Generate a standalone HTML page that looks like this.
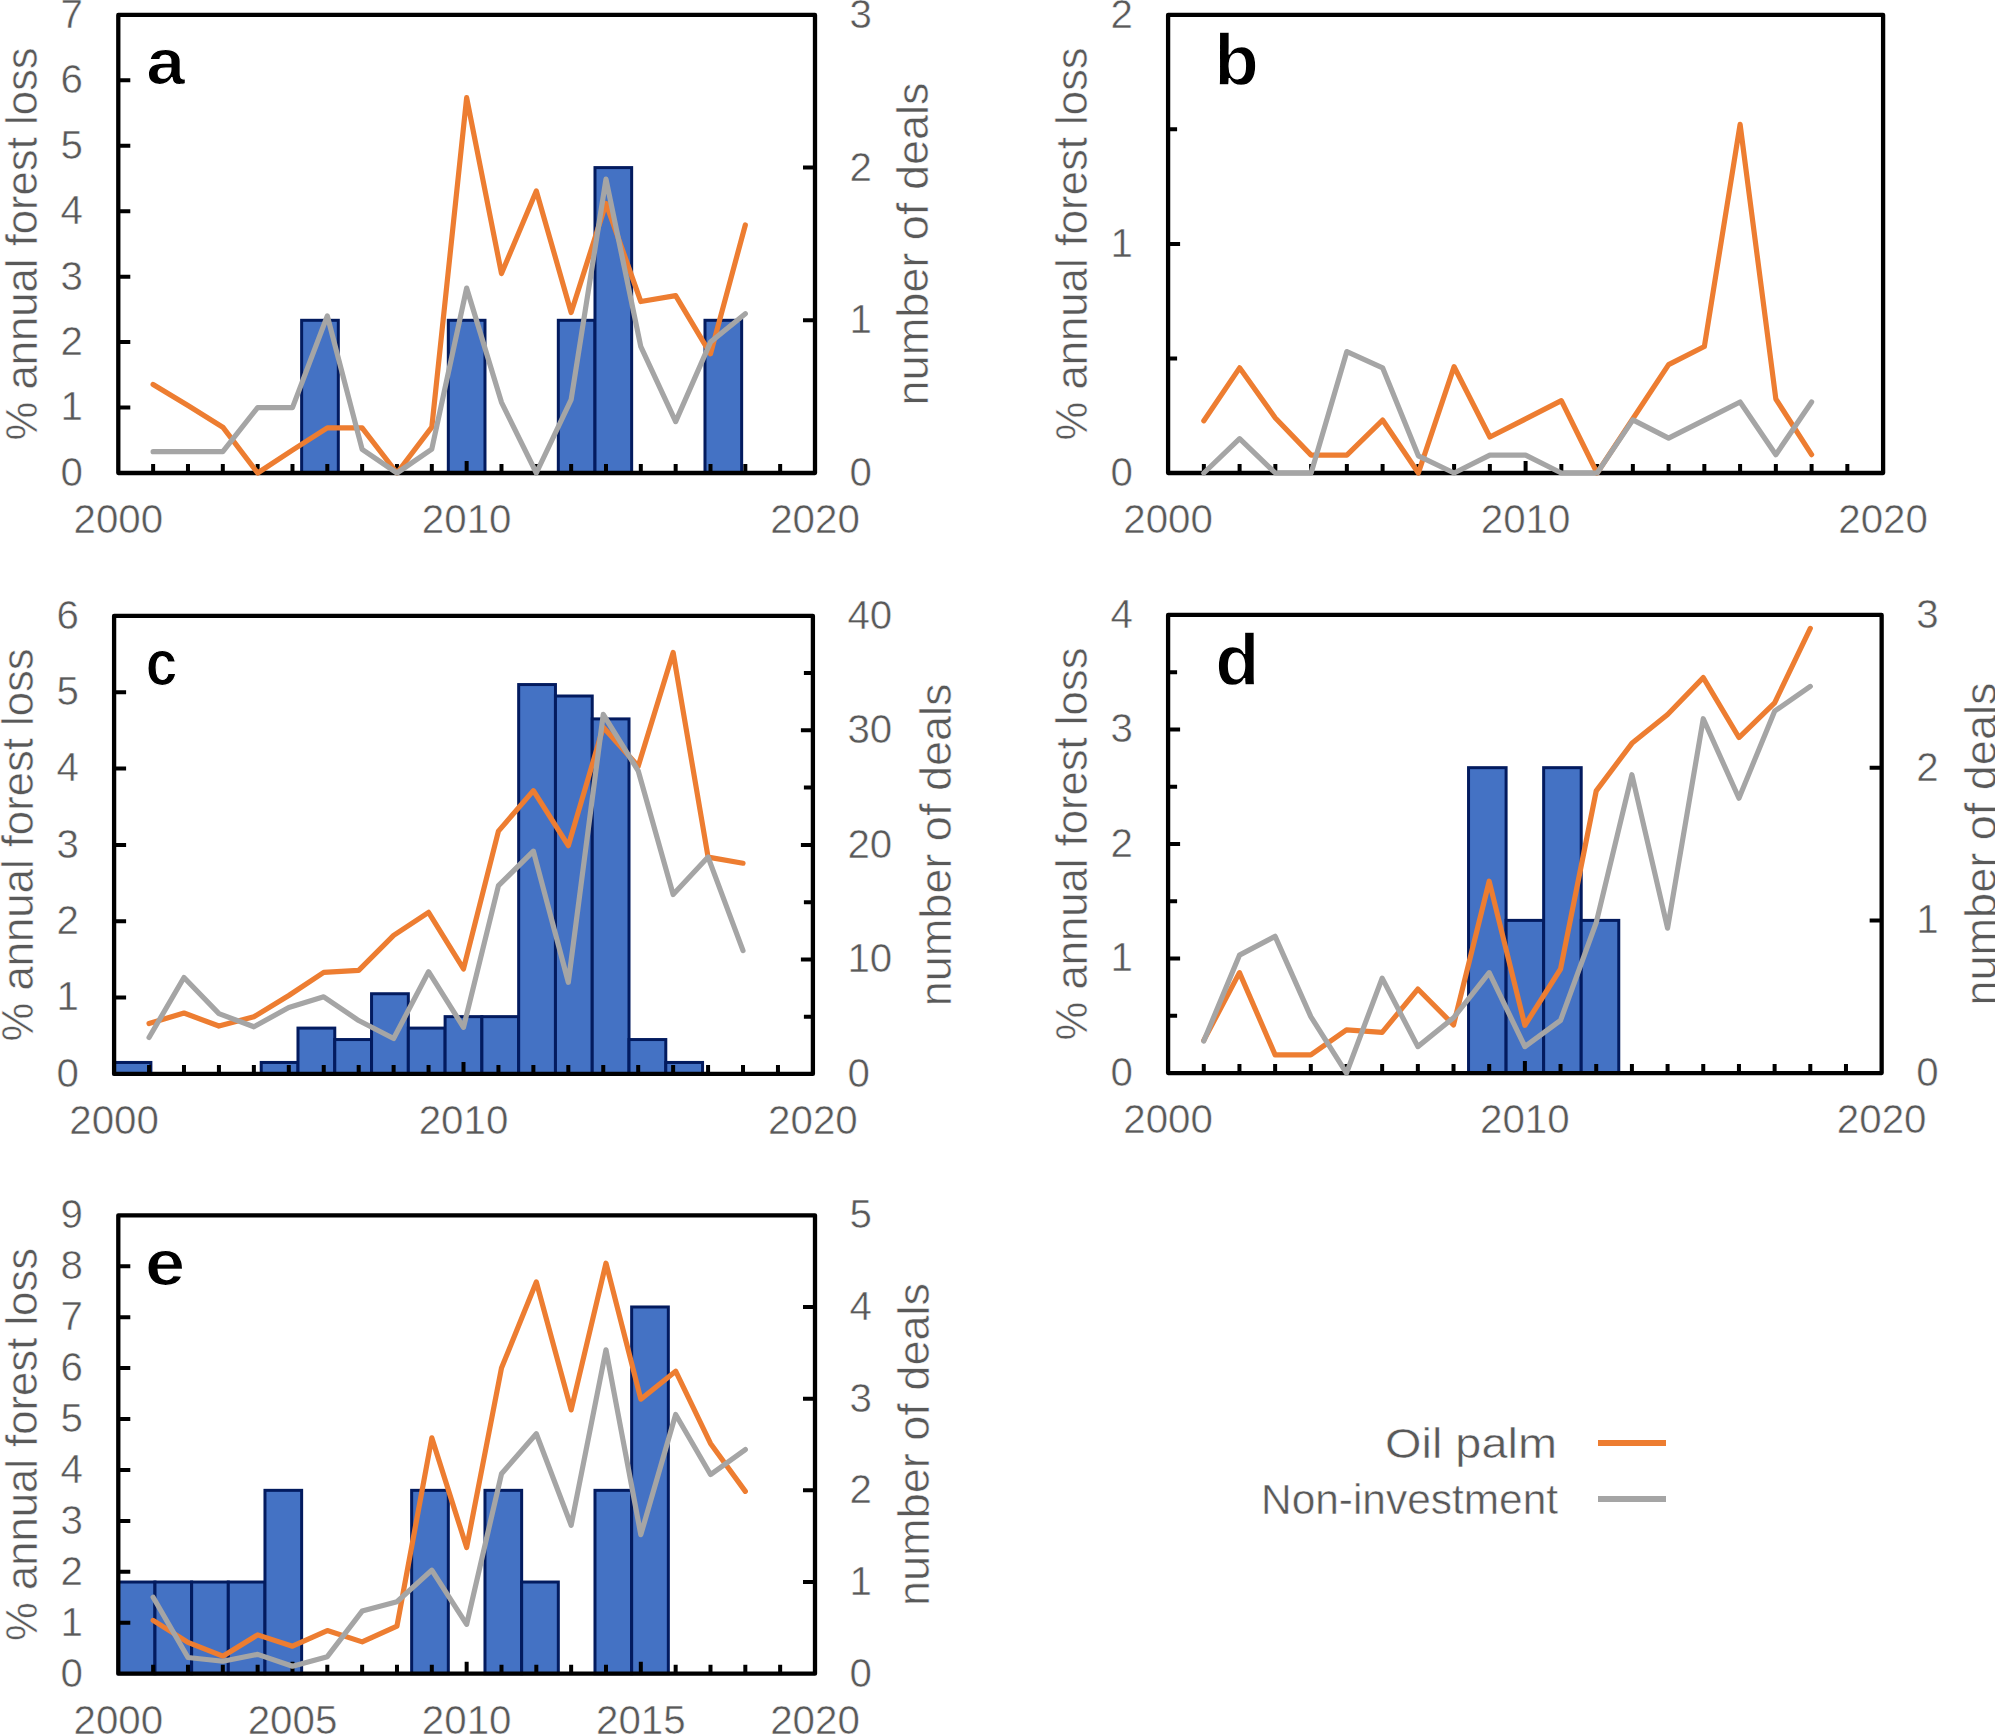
<!DOCTYPE html>
<html lang="en">
<head>
<meta charset="utf-8">
<title>Annual forest loss and number of deals</title>
<style>
html,body{margin:0;padding:0;background:#fff;}
body{width:1995px;height:1734px;overflow:hidden;}
svg{display:block;font-family:"Liberation Sans", sans-serif;}
</style>
</head>
<body>
<svg width="1995" height="1734" viewBox="0 0 1995 1734">
<rect width="1995" height="1734" fill="#fff"/>
<g id="panel-a">
<g fill="#4472C4" stroke="#031B5F" stroke-width="3" stroke-linejoin="miter">
<rect x="301.64" y="320.3" width="36.67" height="152.7"/>
<rect x="448.32" y="320.3" width="36.67" height="152.7"/>
<rect x="558.32" y="320.3" width="36.67" height="152.7"/>
<rect x="594.99" y="167.6" width="36.67" height="305.4"/>
<rect x="704.99" y="320.3" width="36.67" height="152.7"/>
</g>
<path d="M118.3 407.56h12M118.3 342.11h12M118.3 276.67h12M118.3 211.23h12M118.3 145.79h12M118.3 80.34h12M815 320.3h-12M815 167.6h-12M153.13 473v-9M187.97 473v-9M222.81 473v-9M257.64 473v-9M292.48 473v-9M327.31 473v-9M362.14 473v-9M396.98 473v-9M431.81 473v-9M466.65 473v-12M501.49 473v-9M536.32 473v-9M571.15 473v-9M605.99 473v-9M640.82 473v-9M675.66 473v-9M710.5 473v-9M745.33 473v-9M780.16 473v-9" stroke="#000" stroke-width="4" fill="none"/>
<rect x="118.3" y="14.9" width="696.7" height="458.1" fill="none" stroke="#000" stroke-width="4.3" stroke-linejoin="round"/>
<polyline points="153.13,384.46 187.97,405.59 222.81,427.19 257.64,473 292.48,450.1 327.31,427.84 362.14,427.84 396.98,473 431.81,427.19 466.65,97.69 501.49,273.6 536.32,190.94 571.15,312.47 605.99,203.38 640.82,301.54 675.66,295.65 710.5,353.89 745.33,224.97" fill="none" stroke="#ED7D31" stroke-width="5.2" stroke-linejoin="round" stroke-linecap="round"/>
<polyline points="153.13,451.67 187.97,451.67 222.81,451.67 257.64,407.56 292.48,407.56 327.31,315.94 362.14,449.44 396.98,473 431.81,449.05 466.65,288.12 501.49,402.32 536.32,473 571.15,399.7 605.99,179.16 640.82,346.7 675.66,421.63 710.5,342.11 745.33,313.65" fill="none" stroke="#A5A5A5" stroke-width="5.2" stroke-linejoin="round" stroke-linecap="round"/>
<text transform="translate(83,485.9)" font-size="40.3" text-anchor="end" fill="#595959" stroke="#fff" stroke-width="0.5">0</text>
<text transform="translate(83,420.46)" font-size="40.3" text-anchor="end" fill="#595959" stroke="#fff" stroke-width="0.5">1</text>
<text transform="translate(83,355.01)" font-size="40.3" text-anchor="end" fill="#595959" stroke="#fff" stroke-width="0.5">2</text>
<text transform="translate(83,289.57)" font-size="40.3" text-anchor="end" fill="#595959" stroke="#fff" stroke-width="0.5">3</text>
<text transform="translate(83,224.13)" font-size="40.3" text-anchor="end" fill="#595959" stroke="#fff" stroke-width="0.5">4</text>
<text transform="translate(83,158.69)" font-size="40.3" text-anchor="end" fill="#595959" stroke="#fff" stroke-width="0.5">5</text>
<text transform="translate(83,93.24)" font-size="40.3" text-anchor="end" fill="#595959" stroke="#fff" stroke-width="0.5">6</text>
<text transform="translate(83,27.8)" font-size="40.3" text-anchor="end" fill="#595959" stroke="#fff" stroke-width="0.5">7</text>
<text transform="translate(849.5,485.9)" font-size="40.3" fill="#595959" stroke="#fff" stroke-width="0.5">0</text>
<text transform="translate(849.5,333.2)" font-size="40.3" fill="#595959" stroke="#fff" stroke-width="0.5">1</text>
<text transform="translate(849.5,180.5)" font-size="40.3" fill="#595959" stroke="#fff" stroke-width="0.5">2</text>
<text transform="translate(849.5,27.8)" font-size="40.3" fill="#595959" stroke="#fff" stroke-width="0.5">3</text>
<text transform="translate(118.3,533)" font-size="40.3" text-anchor="middle" fill="#595959" stroke="#fff" stroke-width="0.5">2000</text>
<text transform="translate(466.65,533)" font-size="40.3" text-anchor="middle" fill="#595959" stroke="#fff" stroke-width="0.5">2010</text>
<text transform="translate(815,533)" font-size="40.3" text-anchor="middle" fill="#595959" stroke="#fff" stroke-width="0.5">2020</text>
<text transform="translate(37.3,243.95) rotate(-90) scale(1,1.05)" font-size="42" text-anchor="middle" textLength="393" lengthAdjust="spacingAndGlyphs" fill="#595959" stroke="#fff" stroke-width="0.5">% annual forest loss</text>
<text transform="translate(928.4,243.95) rotate(-90) scale(1,1.05)" font-size="42" text-anchor="middle" textLength="323" lengthAdjust="spacingAndGlyphs" fill="#595959" stroke="#fff" stroke-width="0.5">number of deals</text>
<text transform="translate(146.28,83.6) scale(1.09,1)" font-size="64" font-weight="bold" fill="#000" stroke="#fff" stroke-width="1.2">a</text>
</g>
<g id="panel-b">
<path d="M1168.1 358.45h9M1168.1 243.9h12M1168.1 129.35h9M1203.85 473v-9M1239.6 473v-9M1275.35 473v-9M1311.1 473v-9M1346.85 473v-9M1382.6 473v-9M1418.35 473v-9M1454.1 473v-9M1489.85 473v-9M1525.6 473v-12M1561.35 473v-9M1597.1 473v-9M1632.85 473v-9M1668.6 473v-9M1704.35 473v-9M1740.1 473v-9M1775.85 473v-9M1811.6 473v-9M1847.35 473v-9" stroke="#000" stroke-width="4" fill="none"/>
<rect x="1168.1" y="14.8" width="715" height="458.2" fill="none" stroke="#000" stroke-width="4.3" stroke-linejoin="round"/>
<polyline points="1203.85,420.77 1239.6,367.84 1275.35,418.02 1311.1,455.13 1346.85,455.13 1382.6,420.08 1418.35,473 1454.1,366.7 1489.85,437.03 1525.6,418.93 1561.35,400.6 1597.1,473 1632.85,418.7 1668.6,364.64 1704.35,346.54 1740.1,124.31 1775.85,399 1811.6,454.67" fill="none" stroke="#ED7D31" stroke-width="5.2" stroke-linejoin="round" stroke-linecap="round"/>
<polyline points="1203.85,473 1239.6,438.63 1275.35,473 1311.1,473 1346.85,351.58 1382.6,367.84 1418.35,455.82 1454.1,473 1489.85,455.13 1525.6,455.13 1561.35,473 1597.1,473 1632.85,419.85 1668.6,438.18 1704.35,420.08 1740.1,401.98 1775.85,454.67 1811.6,401.98" fill="none" stroke="#A5A5A5" stroke-width="5.2" stroke-linejoin="round" stroke-linecap="round"/>
<text transform="translate(1132.8,485.9)" font-size="40.3" text-anchor="end" fill="#595959" stroke="#fff" stroke-width="0.5">0</text>
<text transform="translate(1132.8,256.8)" font-size="40.3" text-anchor="end" fill="#595959" stroke="#fff" stroke-width="0.5">1</text>
<text transform="translate(1132.8,27.7)" font-size="40.3" text-anchor="end" fill="#595959" stroke="#fff" stroke-width="0.5">2</text>
<text transform="translate(1168.1,533)" font-size="40.3" text-anchor="middle" fill="#595959" stroke="#fff" stroke-width="0.5">2000</text>
<text transform="translate(1525.6,533)" font-size="40.3" text-anchor="middle" fill="#595959" stroke="#fff" stroke-width="0.5">2010</text>
<text transform="translate(1883.1,533)" font-size="40.3" text-anchor="middle" fill="#595959" stroke="#fff" stroke-width="0.5">2020</text>
<text transform="translate(1087.1,243.9) rotate(-90) scale(1,1.05)" font-size="42" text-anchor="middle" textLength="393" lengthAdjust="spacingAndGlyphs" fill="#595959" stroke="#fff" stroke-width="0.5">% annual forest loss</text>
<text transform="translate(1214.15,85.2) scale(1.14,1.13)" font-size="64" font-weight="bold" fill="#000" stroke="#fff" stroke-width="1.2">b</text>
</g>
<g id="panel-c">
<g fill="#4472C4" stroke="#031B5F" stroke-width="3" stroke-linejoin="miter">
<rect x="114.1" y="1062.45" width="36.78" height="11.45"/>
<rect x="261.22" y="1062.45" width="36.78" height="11.45"/>
<rect x="297.99" y="1028.1" width="36.78" height="45.81"/>
<rect x="334.77" y="1039.55" width="36.78" height="34.35"/>
<rect x="371.55" y="993.74" width="36.78" height="80.16"/>
<rect x="408.33" y="1028.1" width="36.78" height="45.81"/>
<rect x="445.11" y="1016.64" width="36.78" height="57.26"/>
<rect x="481.89" y="1016.64" width="36.78" height="57.26"/>
<rect x="518.67" y="684.56" width="36.78" height="389.34"/>
<rect x="555.45" y="696.01" width="36.78" height="377.89"/>
<rect x="592.23" y="718.91" width="36.78" height="354.99"/>
<rect x="629.01" y="1039.55" width="36.78" height="34.35"/>
<rect x="665.78" y="1062.45" width="36.78" height="11.45"/>
</g>
<path d="M114.1 997.56h12M114.1 921.22h12M114.1 844.88h12M114.1 768.53h12M114.1 692.19h12M812.9 1016.64h-9M812.9 959.39h-12M812.9 902.13h-9M812.9 844.88h-12M812.9 787.62h-9M812.9 730.36h-12M812.9 673.11h-9M149.04 1073.9v-9M183.98 1073.9v-9M218.92 1073.9v-9M253.86 1073.9v-9M288.8 1073.9v-9M323.74 1073.9v-9M358.68 1073.9v-9M393.62 1073.9v-9M428.56 1073.9v-9M463.5 1073.9v-12M498.44 1073.9v-9M533.38 1073.9v-9M568.32 1073.9v-9M603.26 1073.9v-9M638.2 1073.9v-9M673.14 1073.9v-9M708.08 1073.9v-9M743.02 1073.9v-9M777.96 1073.9v-9" stroke="#000" stroke-width="4" fill="none"/>
<rect x="114.1" y="615.85" width="698.8" height="458.05" fill="none" stroke="#000" stroke-width="4.3" stroke-linejoin="round"/>
<polyline points="149.04,1023.51 183.98,1013.06 218.92,1026.03 253.86,1016.8 288.8,995.5 323.74,972.44 358.68,970.46 393.62,935.42 428.56,912.36 463.5,968.93 498.44,831.13 533.38,790.67 568.32,845.64 603.26,727.31 638.2,766.24 673.14,652.49 708.08,857.09 743.02,863.2" fill="none" stroke="#ED7D31" stroke-width="5.2" stroke-linejoin="round" stroke-linecap="round"/>
<polyline points="149.04,1037.56 183.98,977.48 218.92,1013.59 253.86,1026.8 288.8,1007.48 323.74,996.79 358.68,1020.54 393.62,1038.55 428.56,971.68 463.5,1027.33 498.44,885.72 533.38,851.14 568.32,982.29 603.26,714.33 638.2,770.82 673.14,894.5 708.08,857.09 743.02,950.61" fill="none" stroke="#A5A5A5" stroke-width="5.2" stroke-linejoin="round" stroke-linecap="round"/>
<text transform="translate(78.8,1086.8)" font-size="40.3" text-anchor="end" fill="#595959" stroke="#fff" stroke-width="0.5">0</text>
<text transform="translate(78.8,1010.46)" font-size="40.3" text-anchor="end" fill="#595959" stroke="#fff" stroke-width="0.5">1</text>
<text transform="translate(78.8,934.12)" font-size="40.3" text-anchor="end" fill="#595959" stroke="#fff" stroke-width="0.5">2</text>
<text transform="translate(78.8,857.77)" font-size="40.3" text-anchor="end" fill="#595959" stroke="#fff" stroke-width="0.5">3</text>
<text transform="translate(78.8,781.43)" font-size="40.3" text-anchor="end" fill="#595959" stroke="#fff" stroke-width="0.5">4</text>
<text transform="translate(78.8,705.09)" font-size="40.3" text-anchor="end" fill="#595959" stroke="#fff" stroke-width="0.5">5</text>
<text transform="translate(78.8,628.75)" font-size="40.3" text-anchor="end" fill="#595959" stroke="#fff" stroke-width="0.5">6</text>
<text transform="translate(847.4,1086.8)" font-size="40.3" fill="#595959" stroke="#fff" stroke-width="0.5">0</text>
<text transform="translate(847.4,972.29)" font-size="40.3" fill="#595959" stroke="#fff" stroke-width="0.5">10</text>
<text transform="translate(847.4,857.77)" font-size="40.3" fill="#595959" stroke="#fff" stroke-width="0.5">20</text>
<text transform="translate(847.4,743.26)" font-size="40.3" fill="#595959" stroke="#fff" stroke-width="0.5">30</text>
<text transform="translate(847.4,628.75)" font-size="40.3" fill="#595959" stroke="#fff" stroke-width="0.5">40</text>
<text transform="translate(114.1,1133.9)" font-size="40.3" text-anchor="middle" fill="#595959" stroke="#fff" stroke-width="0.5">2000</text>
<text transform="translate(463.5,1133.9)" font-size="40.3" text-anchor="middle" fill="#595959" stroke="#fff" stroke-width="0.5">2010</text>
<text transform="translate(812.9,1133.9)" font-size="40.3" text-anchor="middle" fill="#595959" stroke="#fff" stroke-width="0.5">2020</text>
<text transform="translate(33.1,844.88) rotate(-90) scale(1,1.05)" font-size="42" text-anchor="middle" textLength="393" lengthAdjust="spacingAndGlyphs" fill="#595959" stroke="#fff" stroke-width="0.5">% annual forest loss</text>
<text transform="translate(951,844.88) rotate(-90) scale(1,1.05)" font-size="42" text-anchor="middle" textLength="323" lengthAdjust="spacingAndGlyphs" fill="#595959" stroke="#fff" stroke-width="0.5">number of deals</text>
<text transform="translate(145.68,685.2) scale(0.89,1)" font-size="64" font-weight="bold" fill="#000" stroke="#fff" stroke-width="1.2">c</text>
</g>
<g id="panel-d">
<g fill="#4472C4" stroke="#031B5F" stroke-width="3" stroke-linejoin="miter">
<rect x="1468.54" y="767.67" width="37.56" height="305.43"/>
<rect x="1506.1" y="920.38" width="37.56" height="152.72"/>
<rect x="1543.65" y="767.67" width="37.56" height="305.43"/>
<rect x="1581.21" y="920.38" width="37.56" height="152.72"/>
</g>
<path d="M1168.1 1015.83h9M1168.1 958.56h12M1168.1 901.29h9M1168.1 844.02h12M1168.1 786.76h9M1168.1 729.49h12M1168.1 672.22h9M1881.65 920.38h-12M1881.65 767.67h-12M1203.78 1073.1v-9M1239.45 1073.1v-9M1275.13 1073.1v-9M1310.81 1073.1v-9M1346.49 1073.1v-9M1382.16 1073.1v-9M1417.84 1073.1v-9M1453.52 1073.1v-9M1489.2 1073.1v-9M1524.88 1073.1v-12M1560.55 1073.1v-9M1596.23 1073.1v-9M1631.91 1073.1v-9M1667.59 1073.1v-9M1703.26 1073.1v-9M1738.94 1073.1v-9M1774.62 1073.1v-9M1810.3 1073.1v-9M1845.97 1073.1v-9" stroke="#000" stroke-width="4" fill="none"/>
<rect x="1168.1" y="614.95" width="713.55" height="458.15" fill="none" stroke="#000" stroke-width="4.3" stroke-linejoin="round"/>
<polyline points="1203.78,1040.34 1239.45,972.65 1275.13,1054.89 1310.81,1054.89 1346.49,1029.92 1382.16,1032.44 1417.84,989.03 1453.52,1024.88 1489.2,881.25 1524.88,1025.34 1560.55,968.99 1596.23,790.88 1631.91,743.35 1667.59,714.48 1703.26,677.6 1738.94,737.51 1774.62,702.91 1810.3,628.35" fill="none" stroke="#ED7D31" stroke-width="5.2" stroke-linejoin="round" stroke-linecap="round"/>
<polyline points="1203.78,1041.03 1239.45,955.13 1275.13,936.34 1310.81,1016.63 1346.49,1073.1 1382.16,978.15 1417.84,1046.64 1453.52,1017.78 1489.2,972.65 1524.88,1046.64 1560.55,1020.41 1596.23,922.6 1631.91,774.73 1667.59,928.1 1703.26,718.72 1738.94,798.21 1774.62,711.16 1810.3,686.42" fill="none" stroke="#A5A5A5" stroke-width="5.2" stroke-linejoin="round" stroke-linecap="round"/>
<text transform="translate(1132.8,1086)" font-size="40.3" text-anchor="end" fill="#595959" stroke="#fff" stroke-width="0.5">0</text>
<text transform="translate(1132.8,971.46)" font-size="40.3" text-anchor="end" fill="#595959" stroke="#fff" stroke-width="0.5">1</text>
<text transform="translate(1132.8,856.92)" font-size="40.3" text-anchor="end" fill="#595959" stroke="#fff" stroke-width="0.5">2</text>
<text transform="translate(1132.8,742.39)" font-size="40.3" text-anchor="end" fill="#595959" stroke="#fff" stroke-width="0.5">3</text>
<text transform="translate(1132.8,627.85)" font-size="40.3" text-anchor="end" fill="#595959" stroke="#fff" stroke-width="0.5">4</text>
<text transform="translate(1916.15,1086)" font-size="40.3" fill="#595959" stroke="#fff" stroke-width="0.5">0</text>
<text transform="translate(1916.15,933.28)" font-size="40.3" fill="#595959" stroke="#fff" stroke-width="0.5">1</text>
<text transform="translate(1916.15,780.57)" font-size="40.3" fill="#595959" stroke="#fff" stroke-width="0.5">2</text>
<text transform="translate(1916.15,627.85)" font-size="40.3" fill="#595959" stroke="#fff" stroke-width="0.5">3</text>
<text transform="translate(1168.1,1133.1)" font-size="40.3" text-anchor="middle" fill="#595959" stroke="#fff" stroke-width="0.5">2000</text>
<text transform="translate(1524.88,1133.1)" font-size="40.3" text-anchor="middle" fill="#595959" stroke="#fff" stroke-width="0.5">2010</text>
<text transform="translate(1881.65,1133.1)" font-size="40.3" text-anchor="middle" fill="#595959" stroke="#fff" stroke-width="0.5">2020</text>
<text transform="translate(1087.1,844.02) rotate(-90) scale(1,1.05)" font-size="42" text-anchor="middle" textLength="393" lengthAdjust="spacingAndGlyphs" fill="#595959" stroke="#fff" stroke-width="0.5">% annual forest loss</text>
<text transform="translate(1995.5,844.02) rotate(-90) scale(1,1.05)" font-size="42" text-anchor="middle" textLength="323" lengthAdjust="spacingAndGlyphs" fill="#595959" stroke="#fff" stroke-width="0.5">number of deals</text>
<text transform="translate(1215.17,684.7) scale(1.13,1.13)" font-size="64" font-weight="bold" fill="#000" stroke="#fff" stroke-width="1.2">d</text>
</g>
<g id="panel-e">
<g fill="#4472C4" stroke="#031B5F" stroke-width="3" stroke-linejoin="miter">
<rect x="118.3" y="1582.02" width="36.67" height="91.68"/>
<rect x="154.97" y="1582.02" width="36.67" height="91.68"/>
<rect x="191.64" y="1582.02" width="36.67" height="91.68"/>
<rect x="228.31" y="1582.02" width="36.67" height="91.68"/>
<rect x="264.97" y="1490.34" width="36.67" height="183.36"/>
<rect x="411.65" y="1490.34" width="36.67" height="183.36"/>
<rect x="484.98" y="1490.34" width="36.67" height="183.36"/>
<rect x="521.65" y="1582.02" width="36.67" height="91.68"/>
<rect x="594.99" y="1490.34" width="36.67" height="183.36"/>
<rect x="631.66" y="1306.98" width="36.67" height="366.72"/>
</g>
<path d="M118.3 1622.77h12M118.3 1571.83h12M118.3 1520.9h12M118.3 1469.97h12M118.3 1419.03h12M118.3 1368.1h12M118.3 1317.17h12M118.3 1266.23h12M815 1582.02h-12M815 1490.34h-12M815 1398.66h-12M815 1306.98h-12M153.13 1673.7v-9M187.97 1673.7v-9M222.81 1673.7v-9M257.64 1673.7v-9M292.48 1673.7v-12M327.31 1673.7v-9M362.14 1673.7v-9M396.98 1673.7v-9M431.81 1673.7v-9M466.65 1673.7v-12M501.49 1673.7v-9M536.32 1673.7v-9M571.15 1673.7v-9M605.99 1673.7v-9M640.82 1673.7v-12M675.66 1673.7v-9M710.5 1673.7v-9M745.33 1673.7v-9M780.16 1673.7v-9" stroke="#000" stroke-width="4" fill="none"/>
<rect x="118.3" y="1215.3" width="696.7" height="458.4" fill="none" stroke="#000" stroke-width="4.3" stroke-linejoin="round"/>
<polyline points="153.13,1620.37 187.97,1642.38 222.81,1656.18 257.64,1634.89 292.48,1646.2 327.31,1630.56 362.14,1641.87 396.98,1626.08 431.81,1437.88 466.65,1547.49 501.49,1368.1 536.32,1282.02 571.15,1409.87 605.99,1263.18 640.82,1399.17 675.66,1371.16 710.5,1443.48 745.33,1491.36" fill="none" stroke="#ED7D31" stroke-width="5.2" stroke-linejoin="round" stroke-linecap="round"/>
<polyline points="153.13,1597.3 187.97,1657.5 222.81,1661.22 257.64,1654.4 292.48,1666.21 327.31,1656.69 362.14,1611.05 396.98,1601.78 431.81,1570.15 466.65,1624.29 501.49,1473.79 536.32,1433.8 571.15,1525.23 605.99,1349.76 640.82,1534.65 675.66,1414.45 710.5,1474.55 745.33,1449.59" fill="none" stroke="#A5A5A5" stroke-width="5.2" stroke-linejoin="round" stroke-linecap="round"/>
<text transform="translate(83,1686.6)" font-size="40.3" text-anchor="end" fill="#595959" stroke="#fff" stroke-width="0.5">0</text>
<text transform="translate(83,1635.67)" font-size="40.3" text-anchor="end" fill="#595959" stroke="#fff" stroke-width="0.5">1</text>
<text transform="translate(83,1584.73)" font-size="40.3" text-anchor="end" fill="#595959" stroke="#fff" stroke-width="0.5">2</text>
<text transform="translate(83,1533.8)" font-size="40.3" text-anchor="end" fill="#595959" stroke="#fff" stroke-width="0.5">3</text>
<text transform="translate(83,1482.87)" font-size="40.3" text-anchor="end" fill="#595959" stroke="#fff" stroke-width="0.5">4</text>
<text transform="translate(83,1431.93)" font-size="40.3" text-anchor="end" fill="#595959" stroke="#fff" stroke-width="0.5">5</text>
<text transform="translate(83,1381)" font-size="40.3" text-anchor="end" fill="#595959" stroke="#fff" stroke-width="0.5">6</text>
<text transform="translate(83,1330.07)" font-size="40.3" text-anchor="end" fill="#595959" stroke="#fff" stroke-width="0.5">7</text>
<text transform="translate(83,1279.13)" font-size="40.3" text-anchor="end" fill="#595959" stroke="#fff" stroke-width="0.5">8</text>
<text transform="translate(83,1228.2)" font-size="40.3" text-anchor="end" fill="#595959" stroke="#fff" stroke-width="0.5">9</text>
<text transform="translate(849.5,1686.6)" font-size="40.3" fill="#595959" stroke="#fff" stroke-width="0.5">0</text>
<text transform="translate(849.5,1594.92)" font-size="40.3" fill="#595959" stroke="#fff" stroke-width="0.5">1</text>
<text transform="translate(849.5,1503.24)" font-size="40.3" fill="#595959" stroke="#fff" stroke-width="0.5">2</text>
<text transform="translate(849.5,1411.56)" font-size="40.3" fill="#595959" stroke="#fff" stroke-width="0.5">3</text>
<text transform="translate(849.5,1319.88)" font-size="40.3" fill="#595959" stroke="#fff" stroke-width="0.5">4</text>
<text transform="translate(849.5,1228.2)" font-size="40.3" fill="#595959" stroke="#fff" stroke-width="0.5">5</text>
<text transform="translate(118.3,1733.7)" font-size="40.3" text-anchor="middle" fill="#595959" stroke="#fff" stroke-width="0.5">2000</text>
<text transform="translate(292.48,1733.7)" font-size="40.3" text-anchor="middle" fill="#595959" stroke="#fff" stroke-width="0.5">2005</text>
<text transform="translate(466.65,1733.7)" font-size="40.3" text-anchor="middle" fill="#595959" stroke="#fff" stroke-width="0.5">2010</text>
<text transform="translate(640.82,1733.7)" font-size="40.3" text-anchor="middle" fill="#595959" stroke="#fff" stroke-width="0.5">2015</text>
<text transform="translate(815,1733.7)" font-size="40.3" text-anchor="middle" fill="#595959" stroke="#fff" stroke-width="0.5">2020</text>
<text transform="translate(37.3,1444.5) rotate(-90) scale(1,1.05)" font-size="42" text-anchor="middle" textLength="393" lengthAdjust="spacingAndGlyphs" fill="#595959" stroke="#fff" stroke-width="0.5">% annual forest loss</text>
<text transform="translate(929,1444.5) rotate(-90) scale(1,1.05)" font-size="42" text-anchor="middle" textLength="323" lengthAdjust="spacingAndGlyphs" fill="#595959" stroke="#fff" stroke-width="0.5">number of deals</text>
<text transform="translate(145.08,1285.2) scale(1.13,1)" font-size="64" font-weight="bold" fill="#000" stroke="#fff" stroke-width="1.2">e</text>
</g>
<g id="legend">
<text transform="translate(1557,1458.1)" font-size="42.5" text-anchor="end" textLength="172" lengthAdjust="spacingAndGlyphs" fill="#595959" stroke="#fff" stroke-width="0.5">Oil palm</text>
<text transform="translate(1558,1513.5)" font-size="42.5" text-anchor="end" textLength="297" lengthAdjust="spacingAndGlyphs" fill="#595959" stroke="#fff" stroke-width="0.5">Non-investment</text>
<path d="M1598 1443h68" stroke="#ED7D31" stroke-width="6" fill="none"/>
<path d="M1598 1499h68" stroke="#A5A5A5" stroke-width="6" fill="none"/>
</g>
</svg>
</body>
</html>
